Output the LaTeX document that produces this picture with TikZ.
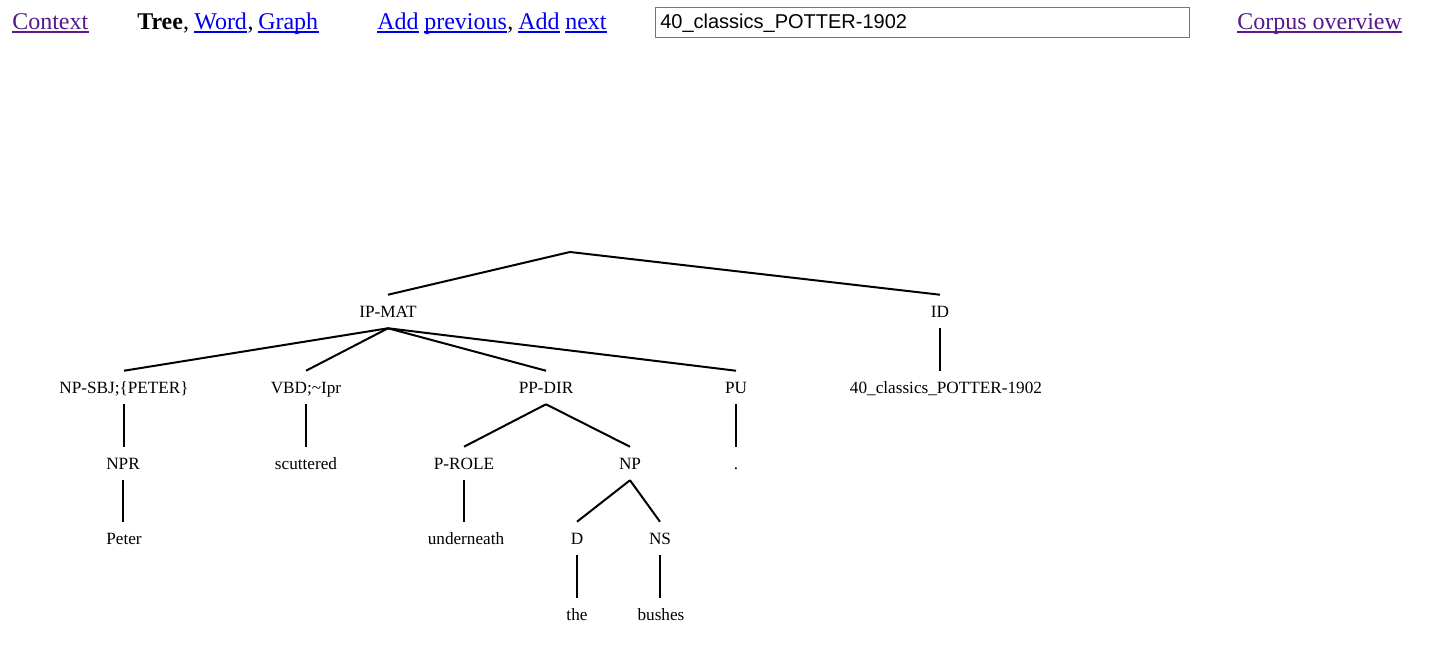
\documentclass[tikz,border=0pt]{standalone}
\usepackage{fontspec}
\setmainfont{Liberation Serif}
\newfontfamily\boxsans{Liberation Sans}
\definecolor{visited}{HTML}{551A8B}
\definecolor{linkblue}{HTML}{0000EE}
\definecolor{boxgray}{HTML}{767676}
\begin{document}
\begin{tikzpicture}[x=0.75pt,y=-0.75pt,
  hdr/.style={font=\fontsize{18pt}{21pt}\selectfont,inner sep=0,anchor=base west},
  vis/.style={hdr,text=visited},
  lnk/.style={hdr,text=linkblue},
  ulvis/.style={draw=visited,line width=1.1pt},
  ullnk/.style={draw=linkblue,line width=1.1pt},
  tn/.style={font=\fontsize{12.9pt}{15pt}\selectfont,inner sep=0,anchor=base,
    text height=16.875pt,text depth=7.875pt},
  edge/.style={line width=1.5pt}]
\useasboundingbox[fill=white] (0,0) rectangle (1446,659);
% header
\node[vis] (ctx) at (12,29.5) {Context};
\draw[ulvis] ([yshift=-2pt]ctx.base west) -- ([yshift=-2pt]ctx.base east);
\node[hdr] (tree) at (137,29.5) {\textbf{Tree},};
\node[lnk] (word) at (194,29.5) {Word};
\node[hdr] (c1) at (word.base east) {,};
\node[lnk] (graph) at (258,29.5) {Graph};
\node[lnk] (add1) at (377,29.5) {Add};
\node[lnk] (prev) at (424,29.5) {previous};
\node[hdr] (c2) at (prev.base east) {,};
\node[lnk] (add2) at (518,29.5) {Add};
\node[lnk] (next) at (565,29.5) {next};
\foreach \n in {word,graph,add1,prev,add2,next}
  \draw[ullnk] ([yshift=-2pt]\n.base west) -- ([yshift=-2pt]\n.base east);
\node[draw=boxgray,line width=0.75pt,minimum width=534*0.75pt,minimum height=30*0.75pt,
  inner sep=0,anchor=north west] (box) at (654.5,7) {};
\node[font=\boxsans\fontsize{15pt}{18pt}\selectfont,inner sep=0,anchor=base west] (boxt) at (660,28.5) {40\_classics\_POTTER-1902};
\node[vis] (corp) at (1237,29.5) {Corpus overview};
\draw[ulvis] ([yshift=-2pt]corp.base west) -- ([yshift=-2pt]corp.base east);
% tree
\coordinate (root) at (570,252);
\node[tn] (ipmat) at (388,317.5) {IP-MAT};
\node[tn] (id) at (940,317.5) {ID};
\node[tn] (npsbj) at (124,393.5) {NP-SBJ;\{PETER\}};
\node[tn] (vbd) at (306,393.5) {VBD;\textasciitilde Ipr};
\node[tn] (ppdir) at (546,393.5) {PP-DIR};
\node[tn] (pu) at (736,393.5) {PU};
\node[tn] (idval) at (946,393.5) {40\_classics\_POTTER-1902};
\node[tn] (npr) at (123,469.5) {NPR};
\node[tn] (scut) at (306,469.5) {scuttered};
\node[tn] (prole) at (464,469.5) {P-ROLE};
\node[tn] (np) at (630,469.5) {NP};
\node[tn] (dot) at (736,469.5) {.};
\node[tn] (peter) at (124,544.5) {Peter};
\node[tn] (under) at (466,544.5) {underneath};
\node[tn] (d) at (577,544.5) {D};
\node[tn] (ns) at (660,544.5) {NS};
\node[tn] (the) at (577,620.5) {the};
\node[tn] (bushes) at (661,620.5) {bushes};
\draw[edge] (ipmat.north) -- (root) -- (id.north);
\draw[edge] (ipmat.south) -- (npsbj.north);
\draw[edge] (ipmat.south) -- (vbd.north);
\draw[edge] (ipmat.south) -- (ppdir.north);
\draw[edge] (ipmat.south) -- (pu.north);
\draw[edge] (id.south) -- (id.south |- idval.north);
\draw[edge] (npsbj.south) -- (npsbj.south |- npr.north);
\draw[edge] (npr.south) -- (npr.south |- peter.north);
\draw[edge] (vbd.south) -- (vbd.south |- scut.north);
\draw[edge] (ppdir.south) -- (prole.north);
\draw[edge] (ppdir.south) -- (np.north);
\draw[edge] (prole.south) -- (prole.south |- under.north);
\draw[edge] (np.south) -- (d.north);
\draw[edge] (np.south) -- (ns.north);
\draw[edge] (d.south) -- (d.south |- the.north);
\draw[edge] (ns.south) -- (ns.south |- bushes.north);
\draw[edge] (pu.south) -- (pu.south |- dot.north);
\end{tikzpicture}
\end{document}
